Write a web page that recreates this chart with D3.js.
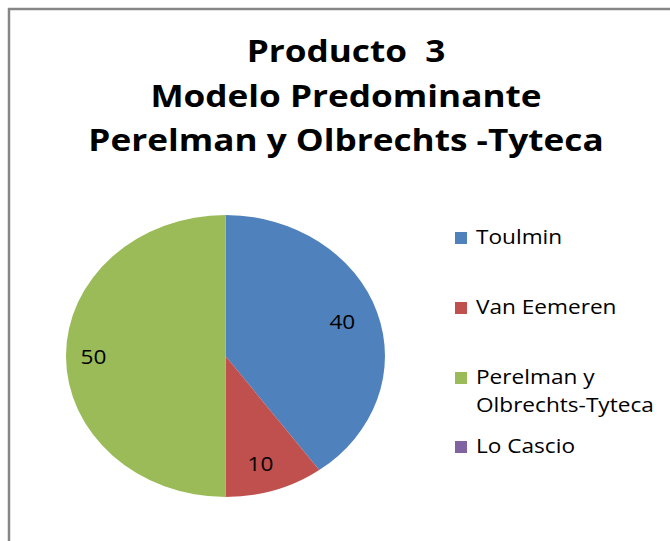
<!DOCTYPE html>
<html>
<head>
<meta charset="utf-8">
<script src="https://cdn.jsdelivr.net/npm/d3@7"></script>
<style>
  body { margin: 0; background: #fff; }
  text { font-family: "Open Sans", sans-serif; fill: #000; }
</style>
</head>
<body>
<svg class="chart" width="670" height="541"></svg>
<script>
var titleLines = ["Producto  3", "Modelo Predominante", "Perelman y Olbrechts -Tyteca"];
var categories = ["Toulmin", "Van Eemeren", "Perelman y Olbrechts-Tyteca", "Lo Cascio"];
var legendLines = [["Toulmin"], ["Van Eemeren"], ["Perelman y", "Olbrechts-Tyteca"], ["Lo Cascio"]];
var values = [40, 10, 50, 0];
var colors = ["#4F81BD", "#C0504D", "#9BBB59", "#8064A2"];

var svg = d3.select(".chart");
var stretch = 1.131;   // the original is stretched sideways

// frame
svg.append("rect")
    .attr("x", 9).attr("y", 9)
    .attr("width", 720).attr("height", 600)
    .attr("fill", "none")
    .attr("stroke", "#868686")
    .attr("stroke-width", 2.5);

// title
svg.selectAll(".title")
    .data(titleLines)
    .enter().append("text")
    .attr("class", "title")
    .attr("transform", function(d, i) { return "translate(346," + (62 + i * 44.7) + ") scale(" + (stretch * 1.02) + ",1)"; })
    .attr("text-anchor", "middle")
    .attr("font-size", 30.5)
    .attr("font-weight", "bold")
    .attr("xml:space", "preserve")
    .text(function(d) { return d; });

// pie
var radius = 141;
var pie = d3.pie().sort(null).value(function(d) { return d; });
var arc = d3.arc().innerRadius(0).outerRadius(radius);
var labelArc = d3.arc().innerRadius(radius * 0.8).outerRadius(radius * 0.8);

var slices = pie(values);

var g = svg.append("g")
    .attr("transform", "translate(225.5,356) scale(" + stretch + ",1)");

g.selectAll(".slice")
    .data(slices)
    .enter().append("path")
    .attr("class", "slice")
    .attr("d", arc)
    .attr("fill", function(d, i) { return colors[i]; });

g.selectAll(".lbl")
    .data(slices.filter(function(d) { return d.value > 0; }))
    .enter().append("text")
    .attr("class", "lbl")
    .attr("transform", function(d) {
        var c = labelArc.centroid(d);
        return "translate(" + (c[0] - 4) + "," + (c[1] + 1) + ")";
    })
    .attr("text-anchor", "middle")
    .attr("dy", "0.36em")
    .attr("font-size", 20)
    .text(function(d) { return d.value; });

// legend
var legendY = [244, 314, 384, 453];
var leg = svg.selectAll(".leg")
    .data(categories)
    .enter().append("g")
    .attr("class", "leg")
    .attr("transform", function(d, i) { return "translate(455," + legendY[i] + ")"; });

leg.append("rect")
    .attr("x", 0).attr("y", -12)
    .attr("width", 12).attr("height", 12)
    .attr("fill", function(d, i) { return colors[i]; });

leg.each(function(d, i) {
    d3.select(this).selectAll("text")
        .data(legendLines[i])
        .enter().append("text")
        .attr("transform", function(t, j) { return "translate(21," + (j * 28) + ") scale(" + stretch + ",1)"; })
        .attr("font-size", 20)
        .text(function(t) { return t; });
});
</script>
</body>
</html>
